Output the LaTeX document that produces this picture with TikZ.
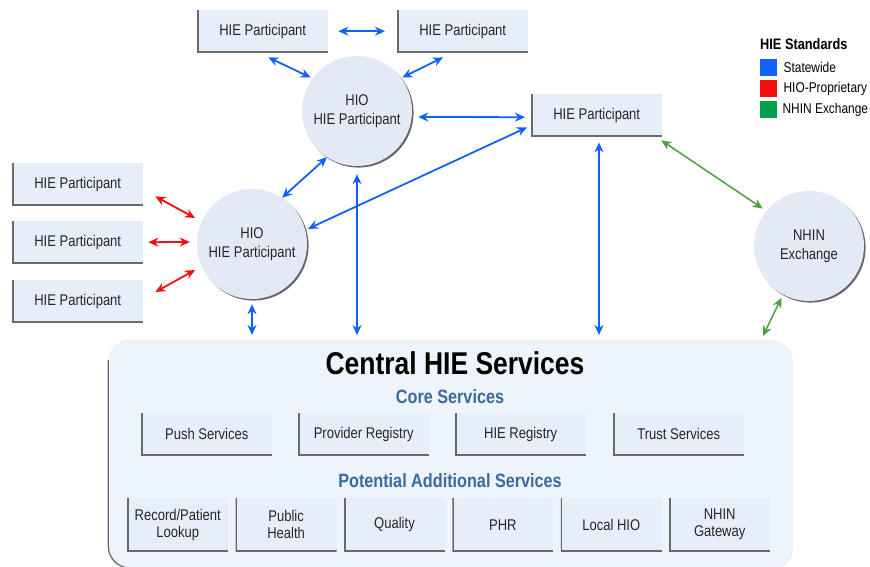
\documentclass[tikz,border=0pt]{standalone}
\usepackage{fontspec}
\setmainfont{Liberation Sans}[FakeStretch=0.84]
\usetikzlibrary{arrows.meta,shadows}
\definecolor{boxfill}{HTML}{E6EEF9}
\definecolor{circfill}{HTML}{E3EAF6}
\definecolor{cenfill}{HTML}{EEF4FC}
\definecolor{edge}{HTML}{6A6A6A}
\definecolor{txt}{HTML}{262626}
\definecolor{head}{HTML}{3A6B9C}
\definecolor{sblue}{HTML}{0F62F5}
\definecolor{sred}{HTML}{F01010}
\definecolor{sgreen}{HTML}{4E9F3D}
\definecolor{lgreen}{HTML}{00A04B}
\tikzset{
  pbox/.style={rectangle, fill=boxfill, minimum width=131pt, minimum height=42pt,
    inner sep=0pt, text=txt, font=\fontsize{15.5}{17}\selectfont, align=center,
    path picture={\draw[edge, line width=3pt] (path picture bounding box.north west) -- (path picture bounding box.south west) -- (path picture bounding box.south east);}},
  sbox/.style={pbox, minimum width=101pt, minimum height=53pt},
  hcirc/.style={circle, fill=circfill, minimum size=110pt, inner sep=0pt, text=txt,
    font=\fontsize{15.5}{19}\selectfont, align=center,
    drop shadow={shadow xshift=1.6pt, shadow yshift=-1.6pt, fill=black, opacity=0.6}},
  conn/.style={line width=1.8pt, {Stealth[length=10pt,width=9pt]}-{Stealth[length=10pt,width=9pt]}},
  bconn/.style={conn, sblue},
  rconn/.style={conn, sred},
  gconn/.style={conn, sgreen},
  legsq/.style={rectangle, minimum size=17pt, inner sep=0pt},
  legtx/.style={anchor=west, text=black, font=\fontsize{14.2}{16}\selectfont, inner sep=0pt},
}
\begin{document}
\begin{tikzpicture}[x=1pt,y=-1pt]
\clip (0,0) rectangle (870,567);
\fill[white] (0,0) rectangle (870,567);

% central box
\node[rectangle, rounded corners=22pt, fill=cenfill, draw=white!85!edge, line width=0.6pt,
  minimum width=684pt, minimum height=230pt, anchor=north west, inner sep=0pt] (central) at (108,340) {};
\draw[edge, line width=1.2pt] (108.3,360) -- (108.3,546) arc[start angle=180, end angle=270, radius=22pt];

\node[font=\bfseries\fontsize{31.5}{34}\selectfont, text=black] (title) at (455,363) {Central HIE Services};
\node[font=\bfseries\fontsize{19.3}{21}\selectfont, text=head] (core) at (450,397) {Core Services};
\node[font=\bfseries\fontsize{19.3}{21}\selectfont, text=head] (pot) at (450,481) {Potential Additional Services};

% core services
\node[pbox, anchor=north west] (push) at (141,413) {Push Services};
\node[pbox, anchor=north west] (prov) at (298,413) {Provider Registry};
\node[pbox, anchor=north west] (hiereg) at (455,413) {HIE Registry};
\node[pbox, anchor=north west] (trust) at (613,413) {Trust Services};

% additional services
\node[sbox, anchor=north west] (rec) at (127,498) {Record/Patient\\Lookup};
\node[sbox, anchor=north west] (pub) at (235.4,498) {Public\\Health};
\node[sbox, anchor=north west] (qual) at (343.8,498) {Quality};
\node[sbox, anchor=north west] (phr) at (452.2,498) {PHR};
\node[sbox, anchor=north west] (lhio) at (560.6,498) {Local HIO};
\node[sbox, anchor=north west] (gate) at (669,498) {NHIN\\Gateway};

% participants
\node[pbox, anchor=north west] (t1) at (197,10) {HIE Participant};
\node[pbox, anchor=north west] (t2) at (397,10) {HIE Participant};
\node[pbox, anchor=north west] (rp) at (531,94) {HIE Participant};
\node[pbox, anchor=north west] (l1) at (12,163) {HIE Participant};
\node[pbox, anchor=north west] (l2) at (12,221) {HIE Participant};
\node[pbox, anchor=north west] (l3) at (12,280) {HIE Participant};

% circles
\node[hcirc] (hioT) at (357,111) {HIO\\HIE Participant};
\node[hcirc] (hioL) at (252,244) {HIO\\HIE Participant};
\node[hcirc] (nhin) at (809,246) {NHIN\\Exchange};

% connectors
\draw[bconn] ([xshift=10pt]t1.east) -- ([xshift=-12pt]t2.west);
\draw[bconn] ([xshift=-60pt,yshift=-5pt]t1.south east) -- ([xshift=-4pt,yshift=-2pt]hioT.140);
\draw[bconn] ([xshift=46pt,yshift=-5pt]t2.south west) -- ([xshift=3pt,yshift=-2pt]hioT.40);
\draw[bconn] ([xshift=6pt,yshift=-6pt]hioT.east) -- ([xshift=-6pt,yshift=-2pt]rp.west);
\draw[bconn] (hioT.237) -- (hioL.57);
\draw[bconn] ([yshift=-8pt]hioT.south) -- ([yshift=5pt]hioT.south |- central.north);
\draw[bconn] ([xshift=-4pt,yshift=9pt]rp.south west) -- ([xshift=3pt]hioL.16);
\draw[bconn] ([xshift=68pt,yshift=-6pt]rp.south west) -- ([xshift=68pt,yshift=5pt]rp.south west |- central.north);
\draw[bconn] ([yshift=-5pt]hioL.south) -- ([yshift=5pt]hioL.south |- central.north);
\draw[gconn, line width=1.5pt] ([xshift=-1pt,yshift=-4pt]rp.south east) -- ([xshift=-4pt,yshift=2pt]nhin.140);
\draw[gconn, line width=1.5pt] ([yshift=-4pt]nhin.240) -- (763,336);
\draw[rconn] ([xshift=12pt,yshift=9pt]l1.south east) -- ([xshift=-57pt,yshift=26pt]hioL.center);
\draw[rconn] ([xshift=5pt]l2.east) -- ([xshift=-7pt,yshift=2pt]hioL.west);
\draw[rconn] ([xshift=12pt,yshift=-12pt]l3.north east) -- ([xshift=-57pt,yshift=-26pt]hioL.center);

% legend
\node[anchor=west, text=black, font=\bfseries\fontsize{15.2}{17}\selectfont, inner sep=0pt] (legt) at (760,44) {HIE Standards};
\node[legsq, fill=sblue, anchor=north west] (lb) at (760,59) {};
\node[legsq, fill=sred, anchor=north west] (lr) at (760,80) {};
\node[legsq, fill=lgreen, anchor=north west] (lg) at (760,101) {};
\node[legtx] (lbt) at ([xshift=6pt]lb.east) {Statewide};
\node[legtx] (lrt) at ([xshift=6pt]lr.east) {HIO-Proprietary};
\node[legtx] (lgt) at ([xshift=5pt]lg.east) {NHIN Exchange};
\end{tikzpicture}
\end{document}
